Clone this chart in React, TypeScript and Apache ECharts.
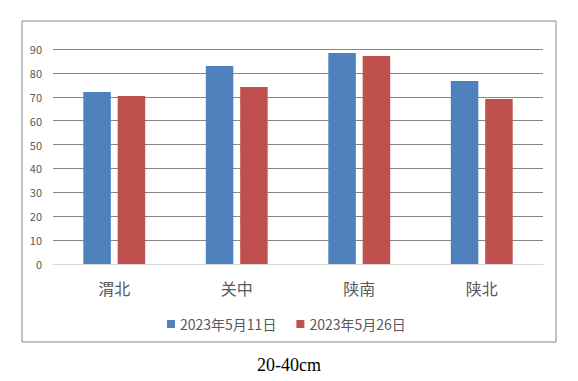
import React, { useEffect, useRef } from "react";
import * as echarts from "echarts";

const categories = ["渭北", "关中", "陕南", "陕北"];
const seriesNames = ["2023年5月11日", "2023年5月26日"];
const valuesMay11 = [72.0, 82.9, 88.3, 76.6];
const valuesMay26 = [70.3, 74.1, 87.1, 69.1];
const yTicks = { min: 0, max: 90, interval: 10 };
const chartTitle = "20-40cm";

const FONT = "'Noto Sans CJK SC', 'Noto Sans', sans-serif";

export default function App() {
  const ref = useRef<HTMLDivElement>(null);
  useEffect(() => {
    if (!ref.current) return;
    const chart = echarts.init(ref.current, null, { renderer: "svg" });
    chart.setOption({
      animation: false,
      backgroundColor: "#ffffff",
      textStyle: { fontFamily: FONT },
      grid: { left: 53, right: 35, top: 49, bottom: 117, containLabel: false },
      legend: {
        data: seriesNames,
        left: 162,
        top: 312,
        itemWidth: 8,
        itemHeight: 8,
        itemGap: 20,
        icon: "rect",
        textStyle: { color: "#595959", fontSize: 14, fontFamily: FONT },
      },
      xAxis: {
        type: "category",
        data: categories,
        axisLine: { show: true, lineStyle: { color: "#d9d9d9", width: 1 } },
        axisTick: { show: false },
        axisLabel: { color: "#595959", fontSize: 16, margin: 16, fontFamily: FONT },
      },
      yAxis: {
        type: "value",
        min: yTicks.min,
        max: yTicks.max,
        interval: yTicks.interval,
        axisLine: { show: false },
        axisTick: { show: false },
        axisLabel: { color: "#595959", fontSize: 11, margin: 11, fontFamily: FONT },
        splitLine: { show: true, lineStyle: { color: "#868686", width: 1 } },
      },
      series: [
        {
          name: seriesNames[0],
          type: "bar",
          data: valuesMay11,
          barWidth: 27.5,
          barGap: "25%",
          itemStyle: { color: "#4f81bd" },
        },
        {
          name: seriesNames[1],
          type: "bar",
          data: valuesMay26,
          barWidth: 27.5,
          barGap: "25%",
          itemStyle: { color: "#c0504d" },
        },
      ],
      graphic: [
        {
          type: "rect",
          shape: { x: 22, y: 21, width: 534, height: 321 },
          style: { fill: "none", stroke: "#868686", lineWidth: 1 },
          silent: true,
        },
        {
          type: "text",
          x: 289,
          y: 365,
          style: {
            text: chartTitle,
            fill: "#000000",
            fontSize: 18,
            fontFamily: "'Liberation Serif', 'Times New Roman', serif",
            textAlign: "center",
            textVerticalAlign: "middle",
          },
        },
      ],
    });
    return () => chart.dispose();
  }, []);
  return (
    <div
      ref={ref}
      style={{ position: "absolute", left: 0, top: 0, width: 578, height: 381 }}
    />
  );
}
